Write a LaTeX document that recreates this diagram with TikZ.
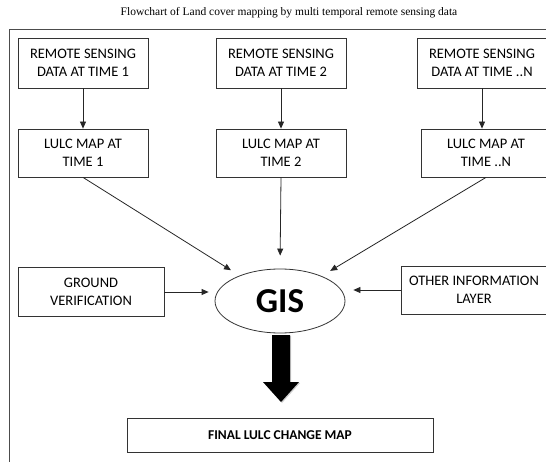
\documentclass[tikz,border=0pt]{standalone}
\usepackage{fontspec}
\setmainfont{Carlito}
\newfontfamily\captionfont{Liberation Serif}
\usetikzlibrary{shapes.geometric,arrows.meta,shadows}

\begin{document}
\begin{tikzpicture}[x=1pt,y=-1pt,
		box/.style={draw=black!80, line width=0.8pt, align=center, minimum width=130pt, minimum height=50pt, inner sep=2pt, font=\fontsize{14.5}{18}\selectfont},
		link/.style={draw=black!85, line width=0.8pt, -{Triangle[length=7pt,width=6pt]}}]
	\useasboundingbox (0,0) rectangle (546,462);
	\node (title) at (289,13) {\captionfont\fontsize{11.5}{13}\selectfont Flowchart of Land cover mapping by multi temporal remote sensing data};
	\draw [draw=black!70, line width=0.8pt] (9,480) -- (9,29) -- (580,29);
	
	% one column for every time step
	\node [box] (rs1) at (83,63) {REMOTE SENSING\\DATA AT TIME 1};
	\node [box] (rs2) at (281,63) {REMOTE SENSING\\DATA AT TIME 2};
	\node [box] (rs3) at (482,63) {REMOTE SENSING\\DATA AT TIME ..N};
	\node [box, minimum height=48pt] (lulc1) at (83,153) {LULC MAP AT\\TIME 1};
	\node [box, minimum height=48pt] (lulc2) at (281,153) {LULC MAP AT\\TIME 2};
	\node [box, minimum height=48pt] (lulc3) at (486,153) {LULC MAP AT\\TIME ..N};
	
	\node [ellipse, draw=black!80, line width=0.8pt, minimum width=130pt, minimum height=64pt, inner sep=0pt, font=\fontsize{35}{35}\selectfont\bfseries] (gis) at (280,301) {GIS};
	\node [box, minimum width=146pt, minimum height=49pt] (ground) at (91,292) {GROUND\\VERIFICATION};
	\node [box, minimum width=146pt, minimum height=48pt] (other) at (474,290) {OTHER INFORMATION\\LAYER};
	\node [box, minimum width=306pt, minimum height=34pt, font=\fontsize{13.5}{15}\selectfont\bfseries] (final) at (280,435) {FINAL LULC CHANGE MAP};
	
	\foreach \i in {1,2}
		\draw [link] (rs\i.south) -- (lulc\i.north);
	\draw [link] (rs3.south) -- (rs3.south |- lulc3.north);
	\draw [link, shorten >=10pt] (lulc1.south) -- (gis);
	\draw [link, shorten >=13pt] (lulc2.south) -- (gis.north);
	\draw [link, shorten >=10pt] (lulc3.south) -- (gis);
	\draw [link, shorten >=6pt] (ground.east) -- (ground.east -| gis.west);
	\draw [link, shorten >=8pt] (other.west) -- (other.west -| gis.east);
	
	% the big arrow down to the final map
	\fill [black, drop shadow={shadow xshift=1pt, shadow yshift=-1pt, opacity=0.4}] (272,335) -- (290,335) -- (290,382) -- (299,382) -- (281,402) -- (263,382) -- (272,382) -- cycle;
\end{tikzpicture}
\end{document}
